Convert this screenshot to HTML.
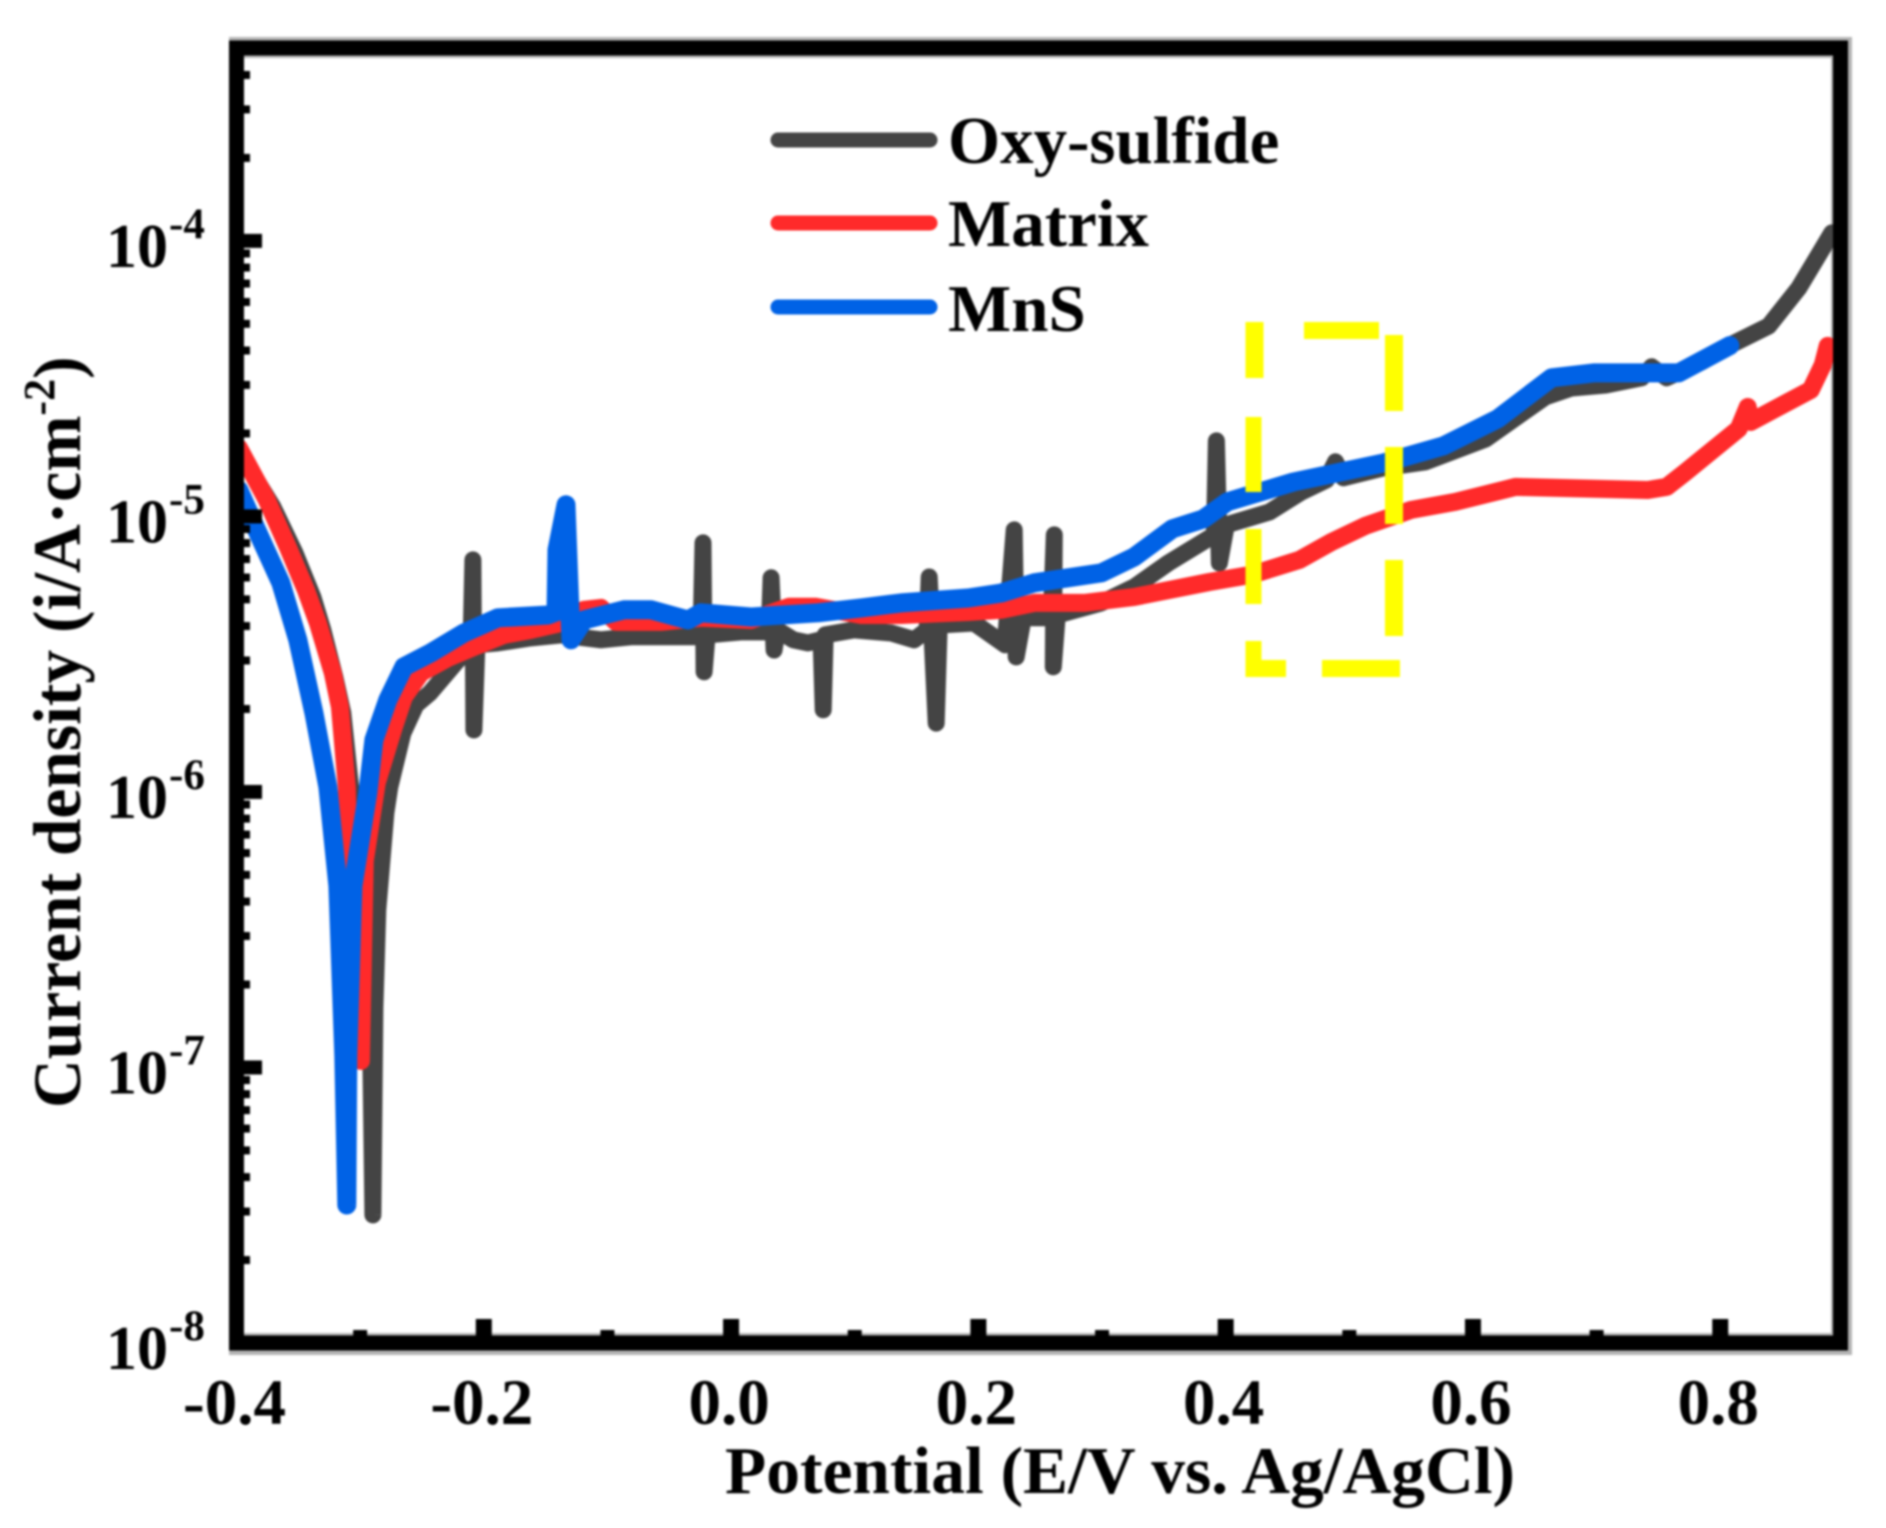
<!DOCTYPE html>
<html lang="en">
<head>
<meta charset="utf-8">
<title>Potentiodynamic polarization curves</title>
<style>
html,body{margin:0;padding:0;background:#fff;}
#chart{display:block;width:1886px;height:1528px;filter:blur(1.1px);}
text{font-family:"Liberation Serif",serif;font-weight:bold;fill:#000;}
</style>
</head>
<body>
<svg id="chart" xmlns="http://www.w3.org/2000/svg" width="1886" height="1528" viewBox="0 0 1886 1528">
  <rect x="0" y="0" width="1886" height="1528" fill="#fff"/>
  <rect x="229" y="37" width="1623" height="1318" fill="#b4b4b4"/>
  <rect x="244" y="58" width="1587" height="1275" fill="#fff"/>
  <g id="series-layer" fill="none" stroke-linejoin="round" stroke-linecap="round"></g>
  <g id="tick-layer" fill="#000"></g>
  <rect x="236.5" y="48" width="1604" height="1295" fill="none" stroke="#000" stroke-width="15"/>
  <g fill="#ffff00">
    <rect x="1245.5" y="322" width="18" height="56"/>
    <rect x="1245.5" y="417" width="16" height="75"/>
    <rect x="1245.5" y="529" width="16" height="75"/>
    <rect x="1245.5" y="641" width="16" height="36"/>
    <rect x="1245.5" y="660" width="40.5" height="17"/>
    <rect x="1322" y="660" width="78" height="17"/>
    <rect x="1304" y="322" width="75" height="17"/>
    <rect x="1385" y="335" width="18" height="76"/>
    <rect x="1385" y="447" width="18" height="77"/>
    <rect x="1385" y="560" width="18" height="76"/>
  </g>
  <g>
    <line x1="778" y1="140" x2="930" y2="140" stroke="#444" stroke-width="15" stroke-linecap="round"/>
    <text x="948" y="163" font-size="67">Oxy-sulfide</text>
    <line x1="778" y1="223" x2="930" y2="223" stroke="#ff2a2a" stroke-width="15" stroke-linecap="round"/>
    <text x="948" y="246" font-size="67">Matrix</text>
    <line x1="778" y1="307" x2="930" y2="307" stroke="#0062e6" stroke-width="15" stroke-linecap="round"/>
    <text x="948" y="331" font-size="67">MnS</text>
  </g>
  <text x="725" y="1493" font-size="67" textLength="790" lengthAdjust="spacingAndGlyphs">Potential (E/V vs. Ag/AgCl)</text>
  <text transform="translate(80,1108) rotate(-90)" font-size="67.5">Current density (i/A·cm<tspan font-size="44" dy="-26">-2</tspan><tspan dy="26">)</tspan></text>
</svg>
<script>
// Axis ranges
const xDomain = [-0.4, 0.9];
const yDomainLog = [-8, -3.3];

// Tick labels
const xTickLabels = ["-0.4", "-0.2", "0.0", "0.2", "0.4", "0.6", "0.8"];
const xMinorTicks = [-0.3, -0.1, 0.1, 0.3, 0.5, 0.7];
const yTickExponents = [-4, -5, -6, -7, -8];

// Oxy-sulfide series: potential (V) and log10 current density
const oxyPotential = [-.3973,-.3706,-.3528,-.3383,-.3302,-.3205,-.3140,-.3075,-.2962,-.2913,-.2897,-.2881,-.2857,-.2792,-.2760,-.2654,-.2549,-.2436,-.2209,-.2104,-.2088,-.2080,-.2056,-.1886,-.1619,-.1376,-.1052,-.0809,-.0243,-.0227,-.0218,-.0194,.0081,.0308,.0324,.0348,.0372,.0502,.0623,.0728,.0745,.0761,.0995,.1295,.1481,.1586,.1602,.1659,.1683,.1966,.2217,.2290,.2306,.2363,.2590,.2614,.2606,.2638,.2994,.3261,.3536,.3803,.3909,.3925,.3949,.4006,.4354,.4613,.4815,.4888,.4953,.5276,.5616,.6102,.6587,.6798,.7073,.7364,.7445,.7566,.7850,.8101,.8392,.8635,.8781,.8902];
const oxyLogCurrent = [-4.770,-4.966,-5.132,-5.292,-5.412,-5.583,-5.713,-5.993,-6.392,-6.973,-7.535,-6.784,-6.428,-6.076,-5.982,-5.786,-5.684,-5.641,-5.521,-5.485,-5.158,-5.775,-5.466,-5.459,-5.441,-5.430,-5.448,-5.437,-5.437,-5.096,-5.564,-5.430,-5.419,-5.419,-5.223,-5.485,-5.412,-5.448,-5.459,-5.448,-5.702,-5.430,-5.412,-5.423,-5.448,-5.412,-5.220,-5.750,-5.394,-5.387,-5.466,-5.049,-5.510,-5.368,-5.368,-5.067,-5.546,-5.358,-5.314,-5.256,-5.169,-5.096,-5.067,-4.726,-5.169,-5.031,-4.984,-4.911,-4.868,-4.802,-4.860,-4.824,-4.802,-4.719,-4.566,-4.534,-4.523,-4.497,-4.457,-4.497,-4.439,-4.374,-4.309,-4.171,-4.062,-3.971];

// Matrix series
const matrixPotential = [-.3981,-.3755,-.3585,-.3439,-.3342,-.3221,-.3164,-.3108,-.3091,-.2994,-.2962,-.2865,-.2727,-.2646,-.2509,-.2290,-.2080,-.1837,-.1619,-.1376,-.1190,-.1052,-.0931,-.0566,-.0243,.0162,.0469,.0688,.1052,.1376,.1918,.2185,.2452,.2857,.3261,.3868,.4208,.4597,.4856,.5131,.5503,.5859,.6345,.7413,.7567,.7712,.8149,.8222,.8246,.8732,.8829,.8869];
const matrixLogCurrent = [-4.751,-4.940,-5.111,-5.267,-5.387,-5.568,-5.691,-5.982,-6.247,-6.976,-6.250,-5.967,-5.764,-5.655,-5.568,-5.514,-5.474,-5.430,-5.412,-5.387,-5.339,-5.332,-5.383,-5.383,-5.368,-5.376,-5.328,-5.328,-5.358,-5.358,-5.347,-5.339,-5.314,-5.314,-5.292,-5.238,-5.212,-5.158,-5.093,-5.034,-4.976,-4.947,-4.893,-4.904,-4.893,-4.842,-4.682,-4.603,-4.657,-4.541,-4.450,-4.381];

// MnS series
const mnsPotential = [-.3981,-.3884,-.3763,-.3642,-.3504,-.3374,-.3261,-.3180,-.3132,-.3108,-.3100,-.3059,-.2938,-.2889,-.2776,-.2646,-.2428,-.2161,-.1886,-.1481,-.1416,-.1408,-.1335,-.1295,-.1190,-.0866,-.0647,-.0348,-.0243,.0162,.0704,.1052,.1376,.1918,.2185,.2452,.2994,.3261,.3569,.3820,.4014,.4548,.5276,.5762,.6199,.6636,.6976,.7664,.8077];
const mnsLogCurrent = [-4.904,-5.002,-5.122,-5.241,-5.448,-5.713,-5.982,-6.341,-6.958,-7.499,-6.958,-6.341,-6.004,-5.811,-5.666,-5.546,-5.495,-5.423,-5.368,-5.358,-5.347,-5.122,-4.958,-5.448,-5.376,-5.339,-5.339,-5.376,-5.350,-5.365,-5.350,-5.332,-5.314,-5.296,-5.278,-5.241,-5.205,-5.147,-5.045,-5.009,-4.947,-4.875,-4.806,-4.744,-4.646,-4.497,-4.479,-4.479,-4.380];

const SVGNS = "http://www.w3.org/2000/svg";
const plotLeft = 236.5, plotRight = 1843.9, plotBottom = 1343, plotTop = 48;

function xScale(v) {
  return plotLeft + (v - xDomain[0]) / (xDomain[1] - xDomain[0]) * (plotRight - plotLeft);
}
function yScale(logI) {
  return plotBottom - (logI - yDomainLog[0]) / (yDomainLog[1] - yDomainLog[0]) * (plotBottom - plotTop);
}
function linePoints(xs, ys) {
  return xs.map((v, i) => xScale(v).toFixed(1) + "," + yScale(ys[i]).toFixed(1)).join(" ");
}

const seriesLayer = document.getElementById("series-layer");
const tickLayer = document.getElementById("tick-layer");
const svgRoot = document.getElementById("chart");

const oxyLine = document.createElementNS(SVGNS, "polyline");


oxyLine.setAttribute("points", linePoints(oxyPotential, oxyLogCurrent));
oxyLine.setAttribute("stroke", "#444");
oxyLine.setAttribute("stroke-width", "17");
seriesLayer.appendChild(oxyLine);

const matrixLine = document.createElementNS(SVGNS, "polyline");


matrixLine.setAttribute("points", linePoints(matrixPotential, matrixLogCurrent));
matrixLine.setAttribute("stroke", "#ff2a2a");
matrixLine.setAttribute("stroke-width", "18");
seriesLayer.appendChild(matrixLine);

const mnsLine = document.createElementNS(SVGNS, "polyline");


mnsLine.setAttribute("points", linePoints(mnsPotential, mnsLogCurrent));
mnsLine.setAttribute("stroke", "#0062e6");
mnsLine.setAttribute("stroke-width", "19");
seriesLayer.appendChild(mnsLine);

// X axis ticks and labels
xTickLabels.forEach(function (label) {
  const v = parseFloat(label);
  const px = xScale(v);
  if (v > xDomain[0]) {
    const tick = document.createElementNS(SVGNS, "rect");
    
    
    tick.setAttribute("x", px - 8);
    tick.setAttribute("y", 1319);
    tick.setAttribute("width", 16);
    tick.setAttribute("height", 20);
    tickLayer.appendChild(tick);
  }
  const text = document.createElementNS(SVGNS, "text");
  
  
  text.setAttribute("x", px - 2);
  text.setAttribute("y", 1424);
  text.setAttribute("font-size", "65");
  text.setAttribute("text-anchor", "middle");
  text.textContent = label;
  svgRoot.appendChild(text);
});
xMinorTicks.forEach(function (v) {
  const tick = document.createElementNS(SVGNS, "rect");
  
  
  tick.setAttribute("x", xScale(v) - 7);
  tick.setAttribute("y", 1330);
  tick.setAttribute("width", 14);
  tick.setAttribute("height", 8);
  tickLayer.appendChild(tick);
});

// Y axis ticks and labels
yTickExponents.forEach(function (exp) {
  const py = yScale(exp);
  if (exp > yDomainLog[0]) {
    const tick = document.createElementNS(SVGNS, "rect");
    
    
    tick.setAttribute("x", 240);
    tick.setAttribute("y", py - 7);
    tick.setAttribute("width", 22);
    tick.setAttribute("height", 14);
    tickLayer.appendChild(tick);
  }
  const base = document.createElementNS(SVGNS, "text");
  
  
  base.setAttribute("x", 106);
  base.setAttribute("y", py + 26);
  base.setAttribute("font-size", "62");
  base.textContent = "10";
  const sup = document.createElementNS(SVGNS, "tspan");
  
  
  sup.setAttribute("x", 169);
  sup.setAttribute("y", py - 3);
  sup.setAttribute("font-size", "43");
  sup.textContent = String(exp);
  base.appendChild(sup);
  svgRoot.appendChild(base);
});
for (let d = -8; d < -3; d++) {
  for (let m = 2; m <= 9; m++) {
    const logVal = d + Math.log10(m);
    if (logVal > yDomainLog[1] - 0.02) continue;
    const tick = document.createElementNS(SVGNS, "rect");
    
    
    tick.setAttribute("x", 240);
    tick.setAttribute("y", yScale(logVal) - 4);
    tick.setAttribute("width", 10);
    tick.setAttribute("height", 8);
    tickLayer.appendChild(tick);
  }
}
</script>
</body>
</html>
